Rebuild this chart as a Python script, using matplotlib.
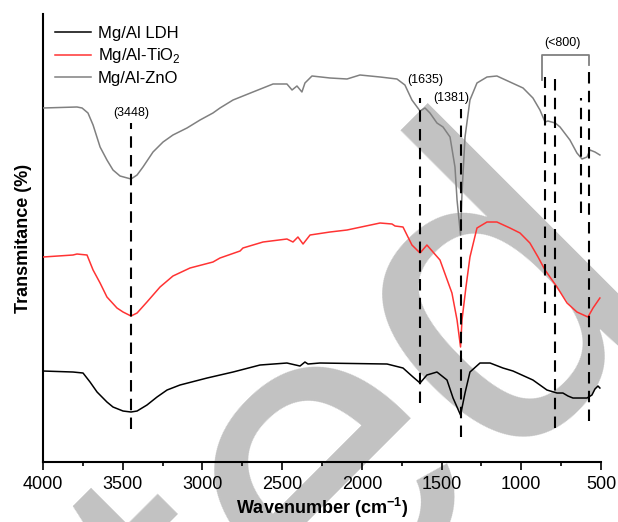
import matplotlib

matplotlib.use("Agg")
import matplotlib.pyplot as plt

plt.rcParams["font.family"] = ["Liberation Sans", "DejaVu Sans"]
plt.rcParams["mathtext.fontset"] = "custom"
plt.rcParams["mathtext.rm"] = "Liberation Sans"
plt.rcParams["mathtext.bf"] = "Liberation Sans:bold"

# FTIR spectra, offset transmittance (arbitrary units)
ldh_wn = [4000, 3812, 3749, 3705, 3661, 3599, 3561, 3498, 3448, 3410, 3348, 3285, 3222,
          3141, 2971, 2808, 2639, 2470, 2388, 2357, 2338, 2263, 1842, 1742, 1679, 1635,
          1592, 1529, 1466, 1428, 1381, 1353, 1322, 1259, 1196, 1115, 1052, 927, 839,
          776, 739, 707, 676, 588, 557, 538, 519, 507]
ldh_t = [91, 90, 89, 80, 70, 60, 55, 51, 50, 51, 57, 65, 72,
         77, 84, 90, 97, 99, 96, 100, 98, 99, 98, 94, 85, 79,
         87, 90, 82, 64, 47, 69, 90, 99, 99, 94, 91, 82, 72,
         69, 69, 66, 64, 64, 67, 73, 76, 74]

tio2_wn = [4000, 3812, 3787, 3724, 3686, 3642, 3599, 3536, 3498, 3448, 3410, 3348, 3266,
           3185, 3078, 2934, 2890, 2764, 2746, 2620, 2470, 2432, 2401, 2369, 2325, 2200,
           2093, 1886, 1811, 1792, 1742, 1686, 1635, 1592, 1554, 1510, 1435, 1403, 1381,
           1372, 1347, 1322, 1278, 1215, 1153, 1071, 1008, 946, 895, 851, 776, 713, 651,
           582, 550, 507]
tio2_t = [205, 207, 208, 207, 192, 179, 165, 154, 150, 146, 149, 160, 175,
          186, 194, 200, 204, 211, 214, 220, 223, 220, 225, 218, 227, 230,
          232, 239, 238, 236, 235, 217, 209, 217, 210, 202, 169, 142, 115,
          142, 175, 205, 234, 240, 240, 234, 229, 219, 205, 192, 175, 159, 150,
          145, 154, 164]

zno_wn = [4000, 3787, 3755, 3718, 3686, 3642, 3599, 3561, 3517, 3448, 3410, 3373, 3310,
          3247, 3185, 3097, 3015, 2934, 2890, 2808, 2683, 2557, 2470, 2438, 2407, 2376,
          2357, 2338, 2313, 2200, 2093, 2012, 1886, 1780, 1730, 1686, 1635, 1604, 1573,
          1529, 1491, 1447, 1416, 1403, 1381, 1372, 1353, 1322, 1278, 1215, 1153, 1071,
          989, 927, 883, 851, 833, 787, 757, 695, 651, 619, 588, 569, 538, 507]
zno_t = [354, 355, 354, 349, 337, 315, 302, 292, 286, 283, 287, 295, 310,
         320, 327, 334, 342, 349, 354, 362, 370, 378, 378, 372, 376, 370,
         379, 382, 386, 384, 383, 387, 385, 383, 377, 362, 351, 354, 349,
         339, 335, 325, 295, 262, 227, 269, 325, 362, 379, 385, 386, 380,
         374, 364, 352, 340, 341, 339, 335, 322, 309, 303, 305, 312, 310, 307]

series_labels = ["Mg/Al LDH", "Mg/Al-TiO$_2$", "Mg/Al-ZnO"]
series_colors = ["#000000", "#ff3333", "#808080"]

# band positions and the vertical span of each marker line
band_wn = [3448, 1635, 1381, 851, 787, 626, 574]
band_lo = [33, 59, 25, 149, 34, 249, 41]
band_hi = [339, 364, 353, 385, 385, 364, 397]

peak_labels = ["(3448)", "(1635)", "(1381)", "(<800)"]
peak_label_x = [3448, 1604, 1437, 742]
peak_label_y = [349, 382, 364, 419]

fig = plt.figure(figsize=(6.18, 5.22), dpi=100)
ax = fig.add_axes([0.0696, 0.1149, 0.9029, 0.8583])
ax.set_facecolor("none")

# diagonal watermark behind the plot
fig.text(-1.008, -2.075, "Accepted", fontsize=317, color="#c2c2c2", rotation=45,
         rotation_mode="anchor", ha="left", va="baseline", zorder=-5)

for wn, t, label, color in zip([ldh_wn, tio2_wn, zno_wn], [ldh_t, tio2_t, zno_t],
                               series_labels, series_colors):
    ax.plot(wn, t, color=color, lw=1.1, label=label, zorder=3)

for x, lo, hi in zip(band_wn, band_lo, band_hi):
    ax.plot([x, x], [lo, hi], color="black", lw=1.5, ls=(0, (5.5, 3.5)), zorder=4)

# bracket grouping the metal-oxygen bands below 800
ax.plot([872, 872, 574, 574], [382, 407, 407, 397], color="#808080", lw=1.3, zorder=4)

for text, x, y in zip(peak_labels, peak_label_x, peak_label_y):
    ax.text(x, y, text, ha="center", va="center", fontsize=9)

ax.set_xlim(4000, 500)
ax.set_ylim(0, 448)
ax.set_xticks([4000, 3500, 3000, 2500, 2000, 1500, 1000, 500])
ax.set_xticks([3750, 3250, 2750, 2250, 1750, 1250, 750], minor=True)
ax.set_yticks([])
ax.tick_params(axis="x", which="major", direction="out", length=6, width=1.2, labelsize=13, pad=4)
ax.tick_params(axis="x", which="minor", direction="out", length=3, width=1.2)
for side in ["top", "right"]:
    ax.spines[side].set_visible(False)
for side in ["left", "bottom"]:
    ax.spines[side].set_linewidth(1.5)

ax.set_xlabel(r"Wavenumber (cm$^{\mathbf{-1}}$)", fontsize=13, fontweight="bold", labelpad=2)
ax.set_ylabel("Transmitance (%)", fontsize=13, fontweight="bold", labelpad=8)

ax.legend(loc="upper left", bbox_to_anchor=(0.0, 1.0), frameon=False, fontsize=12,
          handlelength=2.2, handletextpad=0.4, labelspacing=0.35, borderaxespad=0.3)

fig.savefig("out.png", dpi=100)
